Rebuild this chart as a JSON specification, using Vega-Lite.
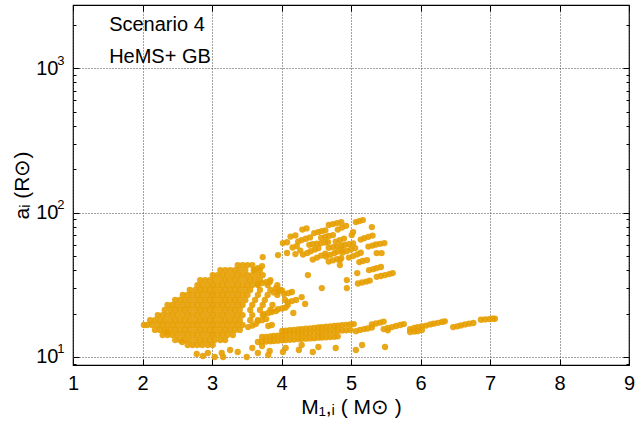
{
  "$schema": "https://vega.github.io/schema/vega-lite/v6.json",
  "width": 556,
  "height": 360,
  "autosize": {"type": "none"},
  "padding": {"left": 73, "top": 5, "right": 9, "bottom": 64},
  "background": "white",
  "config": {
    "view": {"stroke": "#000", "strokeWidth": 1.2},
    "font": "Liberation Sans",
    "axis": {"labelFont": "Liberation Sans", "titleFont": "Liberation Sans", "labelColor": "#000", "titleColor": "#000", "tickColor": "#000", "titleFontWeight": "normal"}
  },
  "datasets": {
    "pts": [
      {"m":3.37,"a":43.3},{"m":3.44,"a":43.3},{"m":3.51,"a":43.3},{"m":3.58,"a":43.3},
      {"m":3.12,"a":40},{"m":3.19,"a":40},{"m":3.26,"a":40},{"m":3.33,"a":40},{"m":3.40,"a":40},{"m":3.48,"a":40},{"m":3.62,"a":40},{"m":3.69,"a":40},
      {"m":3.01,"a":36.9},{"m":3.08,"a":36.9},{"m":3.15,"a":36.9},{"m":3.22,"a":36.9},{"m":3.30,"a":36.9},{"m":3.37,"a":36.9},{"m":3.44,"a":36.9},{"m":3.51,"a":36.9},{"m":3.58,"a":36.9},{"m":3.66,"a":36.9},{"m":3.73,"a":36.9},
      {"m":2.83,"a":34.1},{"m":2.90,"a":34.1},{"m":2.97,"a":34.1},{"m":3.04,"a":34.1},{"m":3.12,"a":34.1},{"m":3.19,"a":34.1},{"m":3.26,"a":34.1},{"m":3.33,"a":34.1},{"m":3.40,"a":34.1},{"m":3.48,"a":34.1},{"m":3.55,"a":34.1},{"m":3.62,"a":34.1},{"m":3.69,"a":34.1},{"m":3.84,"a":34.1},
      {"m":2.79,"a":31.5},{"m":2.86,"a":31.5},{"m":2.94,"a":31.5},{"m":3.01,"a":31.5},{"m":3.08,"a":31.5},{"m":3.15,"a":31.5},{"m":3.22,"a":31.5},{"m":3.30,"a":31.5},{"m":3.37,"a":31.5},{"m":3.44,"a":31.5},{"m":3.51,"a":31.5},{"m":3.58,"a":31.5},{"m":3.66,"a":31.5},{"m":3.80,"a":31.5},{"m":3.94,"a":31.5},
      {"m":2.68,"a":29.1},{"m":2.76,"a":29.1},{"m":2.83,"a":29.1},{"m":2.90,"a":29.1},{"m":2.97,"a":29.1},{"m":3.04,"a":29.1},{"m":3.12,"a":29.1},{"m":3.19,"a":29.1},{"m":3.26,"a":29.1},{"m":3.33,"a":29.1},{"m":3.40,"a":29.1},{"m":3.48,"a":29.1},{"m":3.55,"a":29.1},{"m":3.69,"a":29.1},{"m":3.84,"a":29.1},{"m":3.98,"a":29.1},
      {"m":2.58,"a":26.9},{"m":2.65,"a":26.9},{"m":2.72,"a":26.9},{"m":2.79,"a":26.9},{"m":2.86,"a":26.9},{"m":2.94,"a":26.9},{"m":3.01,"a":26.9},{"m":3.08,"a":26.9},{"m":3.15,"a":26.9},{"m":3.22,"a":26.9},{"m":3.30,"a":26.9},{"m":3.37,"a":26.9},{"m":3.44,"a":26.9},{"m":3.51,"a":26.9},{"m":3.66,"a":26.9},{"m":3.80,"a":26.9},{"m":3.94,"a":26.9},
      {"m":2.47,"a":24.8},{"m":2.54,"a":24.8},{"m":2.61,"a":24.8},{"m":2.68,"a":24.8},{"m":2.76,"a":24.8},{"m":2.83,"a":24.8},{"m":2.90,"a":24.8},{"m":2.97,"a":24.8},{"m":3.04,"a":24.8},{"m":3.12,"a":24.8},{"m":3.19,"a":24.8},{"m":3.26,"a":24.8},{"m":3.33,"a":24.8},{"m":3.40,"a":24.8},{"m":3.48,"a":24.8},{"m":3.62,"a":24.8},{"m":3.76,"a":24.8},{"m":4.05,"a":24.8},
      {"m":2.36,"a":22.9},{"m":2.43,"a":22.9},{"m":2.50,"a":22.9},{"m":2.58,"a":22.9},{"m":2.65,"a":22.9},{"m":2.72,"a":22.9},{"m":2.79,"a":22.9},{"m":2.86,"a":22.9},{"m":2.94,"a":22.9},{"m":3.01,"a":22.9},{"m":3.08,"a":22.9},{"m":3.15,"a":22.9},{"m":3.22,"a":22.9},{"m":3.30,"a":22.9},{"m":3.37,"a":22.9},{"m":3.44,"a":22.9},{"m":3.58,"a":22.9},{"m":3.73,"a":22.9},{"m":3.87,"a":22.9},{"m":4.09,"a":22.9},
      {"m":2.32,"a":21.15},{"m":2.40,"a":21.15},{"m":2.47,"a":21.15},{"m":2.54,"a":21.15},{"m":2.61,"a":21.15},{"m":2.68,"a":21.15},{"m":2.76,"a":21.15},{"m":2.83,"a":21.15},{"m":2.90,"a":21.15},{"m":2.97,"a":21.15},{"m":3.04,"a":21.15},{"m":3.12,"a":21.15},{"m":3.19,"a":21.15},{"m":3.26,"a":21.15},{"m":3.33,"a":21.15},{"m":3.40,"a":21.15},{"m":3.55,"a":21.15},{"m":3.69,"a":21.15},{"m":3.84,"a":21.15},
      {"m":2.22,"a":19.5},{"m":2.29,"a":19.5},{"m":2.36,"a":19.5},{"m":2.43,"a":19.5},{"m":2.50,"a":19.5},{"m":2.58,"a":19.5},{"m":2.65,"a":19.5},{"m":2.72,"a":19.5},{"m":2.79,"a":19.5},{"m":2.86,"a":19.5},{"m":2.94,"a":19.5},{"m":3.01,"a":19.5},{"m":3.08,"a":19.5},{"m":3.15,"a":19.5},{"m":3.22,"a":19.5},{"m":3.30,"a":19.5},{"m":3.37,"a":19.5},{"m":3.44,"a":19.5},{"m":3.58,"a":19.5},{"m":3.73,"a":19.5},
      {"m":2.11,"a":18},{"m":2.18,"a":18},{"m":2.25,"a":18},{"m":2.32,"a":18},{"m":2.40,"a":18},{"m":2.47,"a":18},{"m":2.54,"a":18},{"m":2.61,"a":18},{"m":2.68,"a":18},{"m":2.76,"a":18},{"m":2.83,"a":18},{"m":2.90,"a":18},{"m":2.97,"a":18},{"m":3.04,"a":18},{"m":3.12,"a":18},{"m":3.19,"a":18},{"m":3.26,"a":18},{"m":3.33,"a":18},{"m":3.40,"a":18},{"m":3.55,"a":18},{"m":3.66,"a":18},
      {"m":2.02,"a":16.65},{"m":2.07,"a":16.65},{"m":2.14,"a":16.65},{"m":2.22,"a":16.65},{"m":2.29,"a":16.65},{"m":2.36,"a":16.65},{"m":2.43,"a":16.65},{"m":2.50,"a":16.65},{"m":2.58,"a":16.65},{"m":2.65,"a":16.65},{"m":2.72,"a":16.65},{"m":2.79,"a":16.65},{"m":2.86,"a":16.65},{"m":2.94,"a":16.65},{"m":3.01,"a":16.65},{"m":3.08,"a":16.65},{"m":3.15,"a":16.65},{"m":3.22,"a":16.65},{"m":3.30,"a":16.65},{"m":3.37,"a":16.65},{"m":3.44,"a":16.65},
      {"m":2.18,"a":15.4},{"m":2.25,"a":15.4},{"m":2.32,"a":15.4},{"m":2.40,"a":15.4},{"m":2.47,"a":15.4},{"m":2.54,"a":15.4},{"m":2.61,"a":15.4},{"m":2.68,"a":15.4},{"m":2.76,"a":15.4},{"m":2.83,"a":15.4},{"m":2.90,"a":15.4},{"m":2.97,"a":15.4},{"m":3.04,"a":15.4},{"m":3.12,"a":15.4},{"m":3.19,"a":15.4},{"m":3.26,"a":15.4},{"m":3.33,"a":15.4},{"m":3.40,"a":15.4},
      {"m":2.29,"a":14.2},{"m":2.36,"a":14.2},{"m":2.43,"a":14.2},{"m":2.50,"a":14.2},{"m":2.58,"a":14.2},{"m":2.65,"a":14.2},{"m":2.72,"a":14.2},{"m":2.79,"a":14.2},{"m":2.86,"a":14.2},{"m":2.94,"a":14.2},{"m":3.01,"a":14.2},{"m":3.08,"a":14.2},{"m":3.15,"a":14.2},{"m":3.22,"a":14.2},{"m":3.30,"a":14.2},
      {"m":2.47,"a":13.1},{"m":2.54,"a":13.1},{"m":2.61,"a":13.1},{"m":2.68,"a":13.1},{"m":2.76,"a":13.1},{"m":2.83,"a":13.1},{"m":2.90,"a":13.1},{"m":2.97,"a":13.1},{"m":3.04,"a":13.1},{"m":3.12,"a":13.1},{"m":3.19,"a":13.1},
      {"m":2.65,"a":12.1},{"m":2.72,"a":12.1},{"m":2.79,"a":12.1},{"m":2.86,"a":12.1},{"m":2.94,"a":12.1},{"m":3.01,"a":12.1},
      {"m":4.04,"a":27.3},{"m":4.10,"a":27.7},{"m":4.15,"a":28.2},
      {"m":4.09,"a":24.0},{"m":4.15,"a":24.4},{"m":4.21,"a":24.8},
      {"m":3.95,"a":21.4},{"m":4.01,"a":21.7},{"m":4.06,"a":22.0},
      {"m":3.75,"a":19.8},{"m":3.81,"a":20.2},{"m":3.86,"a":20.5},{"m":3.92,"a":20.8},
      {"m":3.66,"a":17.75},{"m":3.72,"a":18.0},{"m":3.78,"a":18.3},
      {"m":3.81,"a":16.4},{"m":3.86,"a":16.65},
      {"m":3.52,"a":16.1},{"m":3.58,"a":16.5},{"m":3.63,"a":16.9},
      {"m":3.89,"a":28.0},{"m":3.95,"a":28.4},{"m":4.01,"a":28.8},
      {"m":3.83,"a":33.0},
      {"m":3.66,"a":32.0},{"m":3.72,"a":32.5},{"m":3.78,"a":33.0},
      {"m":3.60,"a":40.0},{"m":3.66,"a":41.3},{"m":3.72,"a":42.6},
      {"m":3.92,"a":30.0},{"m":4.29,"a":26.0},{"m":4.17,"a":20.2},{"m":4.34,"a":23.3},{"m":3.73,"a":49.2},{"m":3.95,"a":50.8},{"m":4.08,"a":52.5},{"m":4.38,"a":36.9},
      {"m":2.78,"a":10.49},{"m":2.87,"a":10.16},{"m":2.94,"a":10.66},{"m":3.04,"a":10.0},{"m":3.14,"a":10.66},{"m":3.16,"a":10.0},{"m":3.26,"a":11.18},{"m":3.37,"a":10.83},{"m":3.50,"a":10.0},{"m":3.58,"a":11.54},{"m":2.57,"a":12.7},{"m":2.35,"a":14.9},{"m":4.02,"a":10.83},
      {"m":3.66,"a":10.66},{"m":3.72,"a":11.92},{"m":3.83,"a":11.0},{"m":3.81,"a":10.32},{"m":4.06,"a":11.54},{"m":4.25,"a":11.18},{"m":4.29,"a":12.11},{"m":4.45,"a":10.83},{"m":4.53,"a":11.73},{"m":4.78,"a":11.54},{"m":5.07,"a":11.18},{"m":5.16,"a":12.11},{"m":5.49,"a":11.73},
      {"m":4.01,"a":15.13},{"m":4.06,"a":15.23},{"m":4.12,"a":15.33},{"m":4.18,"a":15.43},{"m":4.24,"a":15.52},{"m":4.29,"a":15.6},{"m":4.35,"a":15.7},{"m":4.41,"a":15.8},{"m":4.47,"a":15.9},{"m":4.53,"a":16.0},{"m":4.58,"a":16.1},{"m":4.64,"a":16.2},{"m":4.70,"a":16.3},{"m":4.76,"a":16.4},{"m":4.81,"a":16.5},{"m":4.87,"a":16.6},{"m":4.93,"a":16.7},{"m":4.99,"a":16.8},{"m":5.04,"a":16.9},
      {"m":3.72,"a":13.75},{"m":3.78,"a":13.8},{"m":3.84,"a":13.9},{"m":3.89,"a":14.0},{"m":3.95,"a":14.05},{"m":4.01,"a":14.1},{"m":4.06,"a":14.2},{"m":4.12,"a":14.25},{"m":4.18,"a":14.35},{"m":4.24,"a":14.4},{"m":4.29,"a":14.5},{"m":4.35,"a":14.55},{"m":4.41,"a":14.6},{"m":4.47,"a":14.7},{"m":4.53,"a":14.8},{"m":4.58,"a":14.85},{"m":4.64,"a":14.95},{"m":4.70,"a":15.0},{"m":4.76,"a":15.1},{"m":4.81,"a":15.2},{"m":4.87,"a":15.25},{"m":4.93,"a":15.3},{"m":4.99,"a":15.4},
      {"m":3.66,"a":12.7},{"m":3.72,"a":12.76},{"m":3.78,"a":12.8},{"m":3.84,"a":12.85},{"m":3.89,"a":12.9},{"m":3.95,"a":12.98},{"m":4.01,"a":13.04},{"m":4.06,"a":13.1},{"m":4.12,"a":13.15},{"m":4.18,"a":13.2},{"m":4.24,"a":13.3},{"m":4.29,"a":13.35},{"m":4.35,"a":13.4},{"m":4.41,"a":13.45},{"m":4.47,"a":13.5},{"m":4.53,"a":13.6},{"m":4.58,"a":13.65},{"m":4.64,"a":13.7},{"m":4.70,"a":13.75},{"m":4.76,"a":13.8},{"m":4.81,"a":13.9},
      {"m":5.07,"a":15.1},{"m":5.13,"a":15.4},{"m":5.19,"a":15.6},{"m":5.24,"a":15.75},{"m":5.30,"a":16.0},
      {"m":5.30,"a":16.8},{"m":5.36,"a":17.05},{"m":5.42,"a":17.3},{"m":5.47,"a":17.6},
      {"m":5.47,"a":15.6},{"m":5.53,"a":15.9},{"m":5.59,"a":16.1},{"m":5.65,"a":16.4},{"m":5.71,"a":16.65},{"m":5.76,"a":16.9},{"m":5.53,"a":15.3},
      {"m":5.85,"a":15.6},{"m":5.91,"a":15.9},{"m":5.96,"a":16.1},{"m":6.02,"a":16.3},{"m":6.08,"a":16.5},{"m":6.14,"a":16.8},{"m":6.19,"a":17.0},{"m":6.25,"a":17.25},{"m":6.31,"a":17.5},{"m":6.35,"a":17.65},
      {"m":5.85,"a":14.9},{"m":5.91,"a":15.0},{"m":5.96,"a":15.1},{"m":6.02,"a":15.4},
      {"m":6.47,"a":16.1},{"m":6.53,"a":16.3},{"m":6.58,"a":16.55},{"m":6.64,"a":16.8},{"m":6.70,"a":17.0},{"m":6.76,"a":17.2},
      {"m":6.87,"a":18.1},{"m":6.93,"a":18.2},{"m":6.99,"a":18.3},{"m":7.04,"a":18.4},{"m":7.07,"a":18.4},
      {"m":4.68,"a":82.2},{"m":4.74,"a":83.3},{"m":4.80,"a":84.6},{"m":4.86,"a":85.7},
      {"m":4.81,"a":76.3},{"m":4.87,"a":78.7},{"m":4.93,"a":81.0},
      {"m":5.07,"a":86.0},{"m":5.12,"a":87.3},{"m":5.17,"a":88.7},
      {"m":5.30,"a":79.4},
      {"m":4.30,"a":76.3},{"m":4.36,"a":77.7},
      {"m":4.13,"a":68.2},{"m":4.20,"a":69.5},
      {"m":4.24,"a":63.0},{"m":4.29,"a":64.5},{"m":4.35,"a":65.9},{"m":4.41,"a":67.3},
      {"m":4.47,"a":72.1},{"m":4.53,"a":73.3},{"m":4.58,"a":74.5},{"m":4.63,"a":75.4},
      {"m":4.57,"a":66.9},{"m":4.63,"a":67.9},{"m":4.68,"a":68.9},{"m":4.74,"a":69.9},
      {"m":4.78,"a":63.0},{"m":4.84,"a":64.5},{"m":4.90,"a":66.1},
      {"m":4.02,"a":61.5},{"m":4.08,"a":62.3},
      {"m":4.40,"a":59.8},{"m":4.45,"a":60.4},{"m":4.51,"a":61.0},{"m":4.57,"a":61.5},{"m":4.63,"a":62.1},{"m":4.67,"a":62.5},
      {"m":4.68,"a":57.0},{"m":4.74,"a":57.6},{"m":4.80,"a":58.4},{"m":4.86,"a":59.0},{"m":4.91,"a":59.7},{"m":4.97,"a":60.4},{"m":5.03,"a":61.1},
      {"m":5.01,"a":69.9},{"m":5.03,"a":73.3},
      {"m":5.14,"a":65.0},{"m":5.19,"a":66.5},{"m":5.25,"a":68.0},{"m":5.31,"a":69.3},
      {"m":5.25,"a":58.2},{"m":5.31,"a":59.1},{"m":5.36,"a":60.1},{"m":5.42,"a":60.8},{"m":5.48,"a":61.5},
      {"m":4.16,"a":57.3},{"m":4.22,"a":58.6},
      {"m":4.20,"a":51.6},{"m":4.27,"a":54.6},
      {"m":4.31,"a":51.2},{"m":4.37,"a":52.5},{"m":4.42,"a":54.0},{"m":4.48,"a":55.5},{"m":4.53,"a":56.7},
      {"m":4.45,"a":47.3},{"m":4.51,"a":48.8},{"m":4.57,"a":50.4},{"m":4.63,"a":52.0},
      {"m":4.64,"a":49.6},{"m":4.70,"a":51.0},{"m":4.76,"a":52.3},{"m":4.81,"a":53.7},{"m":4.87,"a":55.0},
      {"m":4.68,"a":45.8},{"m":4.74,"a":46.7},{"m":4.80,"a":47.5},{"m":4.86,"a":48.3},
      {"m":4.88,"a":52.9},{"m":4.94,"a":54.2},{"m":5.00,"a":55.5},{"m":5.06,"a":56.8},
      {"m":4.97,"a":48.8},{"m":5.03,"a":50.0},{"m":5.09,"a":51.4},{"m":5.14,"a":52.7},
      {"m":4.84,"a":46.9},{"m":4.84,"a":43.3},
      {"m":5.12,"a":45.4},{"m":5.17,"a":46.2},{"m":5.23,"a":46.9},
      {"m":5.37,"a":52.4},{"m":5.44,"a":52.4},
      {"m":5.26,"a":40.0},{"m":5.32,"a":40.6},{"m":5.37,"a":41.3},{"m":5.43,"a":42.0},
      {"m":4.94,"a":34.1},
      {"m":5.10,"a":32.3},{"m":5.16,"a":32.8},{"m":5.22,"a":33.3},{"m":5.27,"a":33.8},
      {"m":5.37,"a":35.9},{"m":5.43,"a":36.4},{"m":5.49,"a":36.9},{"m":5.55,"a":37.5},{"m":5.60,"a":38.1},
      {"m":5.09,"a":38.1},{"m":4.58,"a":30.0},{"m":4.94,"a":30.0}
    ],
    "labels": [
      {"m": 1.52, "a": 1985, "t": "Scenario 4"},
      {"m": 1.52, "a": 1201, "t": "HeMS+ GB"}
    ],
    "anchor": [{"m": 2, "a": 20}]
  },
  "layer": [
    {
      "data": {"name": "pts"},
      "mark": {"type": "circle", "color": "#e69f00", "opacity": 0.9, "size": 40},
      "encoding": {
        "x": {"field": "m", "type": "quantitative",
          "scale": {"domain": [1, 9], "nice": false, "zero": false},
          "axis": {"orient": "bottom", "values": [1,2,3,4,5,6,7,8,9], "format": "d", "ticks": false, "domain": false,
            "grid": true, "gridColor": "#444", "gridDash": [1, 2], "gridWidth": 1,
            "labelFontSize": 20, "labelPadding": 8, "labelFlush": false,
            "title": "M₁,ᵢ ( M⊙ )", "titleFontSize": 21, "titlePadding": 3}},
        "y": {"field": "a", "type": "quantitative",
          "scale": {"type": "log", "domain": [8.8, 2741], "nice": false},
          "axis": {"orient": "left", "values": [10, 100, 1000], "labelExpr": "'10'", "ticks": false, "domain": false,
            "grid": true, "gridColor": "#444", "gridDash": [1, 2], "gridWidth": 1,
            "labelFontSize": 20, "labelPadding": 15, "labelFlush": false, "labelBaseline": "middle",
            "title": "aᵢ (R⊙)", "titleFontSize": 21, "titlePadding": 3}}
      }
    },
    {
      "data": {"name": "labels"},
      "mark": {"type": "text", "align": "left", "baseline": "middle", "fontSize": 20, "font": "Liberation Sans", "color": "#000"},
      "encoding": {
        "x": {"field": "m", "type": "quantitative", "axis": null},
        "y": {"field": "a", "type": "quantitative", "axis": null},
        "text": {"field": "t"}
      }
    },
    {
      "data": {"name": "anchor"},
      "mark": {"type": "point", "opacity": 0},
      "encoding": {
        "x": {"field": "m", "type": "quantitative",
          "axis": {"orient": "bottom", "values": [1,2,3,4,5,6,7,8,9], "tickSize": -6, "labels": false, "domain": false, "grid": false, "title": null}},
        "y": {"field": "a", "type": "quantitative",
          "axis": {"orient": "left", "values": [10, 100, 1000], "tickSize": -6, "labels": false, "domain": false, "grid": false, "title": null}}
      }
    },
    {
      "data": {"name": "anchor"},
      "mark": {"type": "point", "opacity": 0},
      "encoding": {
        "x": {"field": "m", "type": "quantitative",
          "axis": {"orient": "top", "values": [1,2,3,4,5,6,7,8,9], "tickSize": -6, "labels": false, "domain": false, "grid": false, "title": null}},
        "y": {"field": "a", "type": "quantitative",
          "axis": {"orient": "left", "values": [9,20,30,40,50,60,70,80,90,200,300,400,500,600,700,800,900,2000], "tickSize": -3, "labels": false, "domain": false, "grid": false, "title": null}}
      }
    },
    {
      "data": {"name": "anchor"},
      "mark": {"type": "point", "opacity": 0},
      "encoding": {
        "x": {"field": "m", "type": "quantitative", "axis": null},
        "y": {"field": "a", "type": "quantitative",
          "axis": {"orient": "right", "values": [10, 100, 1000], "tickSize": -6, "labels": false, "domain": false, "grid": false, "title": null}}
      }
    },
    {
      "data": {"name": "anchor"},
      "mark": {"type": "point", "opacity": 0},
      "encoding": {
        "x": {"field": "m", "type": "quantitative", "axis": null},
        "y": {"field": "a", "type": "quantitative",
          "axis": {"orient": "right", "values": [9,20,30,40,50,60,70,80,90,200,300,400,500,600,700,800,900,2000], "tickSize": -3, "labels": false, "domain": false, "grid": false, "title": null}}
      }
    },
    {
      "data": {"name": "anchor"},
      "mark": {"type": "point", "opacity": 0},
      "encoding": {
        "x": {"field": "m", "type": "quantitative", "axis": null},
        "y": {"field": "a", "type": "quantitative",
          "axis": {"orient": "left", "values": [10, 100, 1000], "labelExpr": "datum.value == 10 ? '1' : datum.value == 100 ? '2' : '3'",
            "ticks": false, "labels": true, "labelFontSize": 13, "labelPadding": 9, "labelOffset": -8, "labelFlush": false, "labelBaseline": "middle",
            "domain": false, "grid": false, "title": null}}
      }
    }
  ],
  "resolve": {"axis": {"x": "independent", "y": "independent"}}
}
